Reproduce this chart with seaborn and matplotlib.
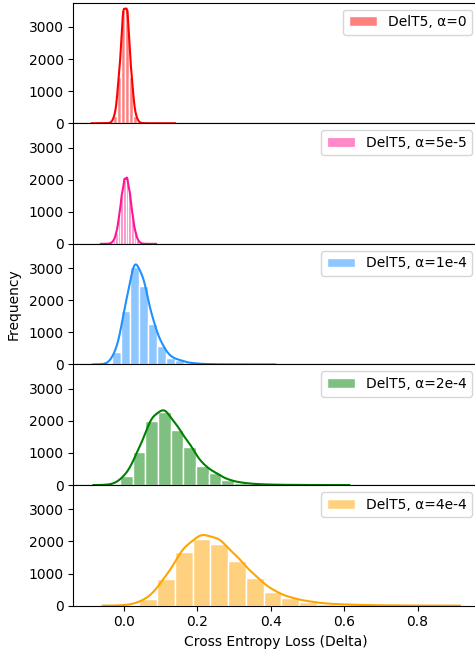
import numpy as np
import matplotlib
matplotlib.use("Agg")
import matplotlib.pyplot as plt
import seaborn as sns

# ---- data ----
labels = ["DelT5, α=0", "DelT5, α=5e-5", "DelT5, α=1e-4", "DelT5, α=2e-4", "DelT5, α=4e-4"]
colors = ["red", "deeppink", "dodgerblue", "green", "orange"]
bin_start = [-0.084, -0.059, -0.0805, -0.079, -0.054]
bin_width = [0.01105, 0.0072, 0.0245, 0.0345, 0.0483]

counts_a0 = [1, 0, 0, 1, 16, 238, 1440, 3540, 3555, 1450, 242, 17, 3, 1, 1, 0, 0, 0, 0, 1]
counts_a5e5 = [1, 1, 4, 26, 108, 346, 829, 1499, 2000, 2040, 1591, 916, 397, 129, 31, 6, 2, 1, 0, 1]
counts_a1e4 = [1, 15, 374, 1682, 3032, 2440, 1246, 571, 208, 125, 50, 25, 12, 6, 3, 2, 1, 1, 0, 1]
counts_a2e4 = [1, 20, 291, 1038, 2004, 2264, 1713, 1194, 602, 363, 156, 73, 35, 18, 10, 6, 3, 2, 1, 1]
counts_a4e4 = [1, 20, 196, 817, 1677, 2070, 1925, 1398, 860, 435, 228, 124, 60, 35, 20, 12, 7, 4, 2, 1]
all_counts = [counts_a0, counts_a5e5, counts_a1e4, counts_a2e4, counts_a4e4]

yticks = [0, 1000, 2000, 3000]

# KDE styling: smoothing relative to bin width, how far the curve runs past
# the outer bin edges, and a per-panel height gain for the density curve
kde_ratio = [0.5, 0.5, 0.55, 0.55, 0.55]
kde_ext = 0.003
kde_gain = [1.03, 1.02, 1.115, 1.075, 1.095]


def kde_settings(centers, counts, width, ratio):
    w = np.asarray(counts, float)
    w = w / w.sum()
    m = (w * centers).sum()
    var = (w * (centers - m) ** 2).sum() / (1 - (w ** 2).sum())
    neff = 1 / (w ** 2).sum()
    sigma_w = np.sqrt(var) * neff ** (-0.2)
    target = ratio * width
    bw_adjust = target / sigma_w
    # seaborn defines the support grid from an unweighted fit
    sigma_u = np.std(centers, ddof=1) * len(centers) ** (-0.2) * bw_adjust
    cut = (0.5 * width + kde_ext) / sigma_u
    return float(bw_adjust), float(cut)


fig = plt.figure(figsize=(4.75, 6.58), dpi=100)
axes = fig.subplots(5, 1, sharex=True, sharey=True)
fig.subplots_adjust(left=0.1543, right=1.0084, bottom=0.0795, top=0.9959, hspace=0)

for i, ax in enumerate(axes):
    edges = list(bin_start[i] + bin_width[i] * np.arange(21))
    centers = [e + bin_width[i] / 2 for e in edges[:-1]]
    counts = list(all_counts[i])
    bwa, cut = kde_settings(np.array(centers), counts, bin_width[i], kde_ratio[i])
    # bars
    sns.histplot(x=centers, weights=counts, bins=edges, kde=False,
                 color=colors[i], alpha=0.5, edgecolor="white",
                 label=labels[i], ax=ax)
    # density curve (bars of this call are invisible)
    sns.histplot(x=centers, weights=[c * kde_gain[i] for c in counts], bins=edges,
                 kde=True, color=colors[i], alpha=0, linewidth=0, ax=ax,
                 kde_kws=dict(bw_adjust=bwa, cut=cut, gridsize=400),
                 line_kws=dict(linewidth=1.5))
    ax.legend(loc="upper right", fontsize=10)
    ax.set_ylabel("")
    ax.set_yticks(yticks)
    ax.tick_params(labelsize=10)
    if i < 4:
        ax.tick_params(axis="x", which="both", bottom=False)

axes[0].set_ylim(0, 3757)
axes[0].set_xlim(-0.137, 0.967)
axes[2].set_ylabel("Frequency", fontsize=10)
axes[2].yaxis.set_label_coords(-0.131, 0.5)
axes[4].set_xlabel("Cross Entropy Loss (Delta)", fontsize=10)

fig.savefig("out.png", dpi=100)
